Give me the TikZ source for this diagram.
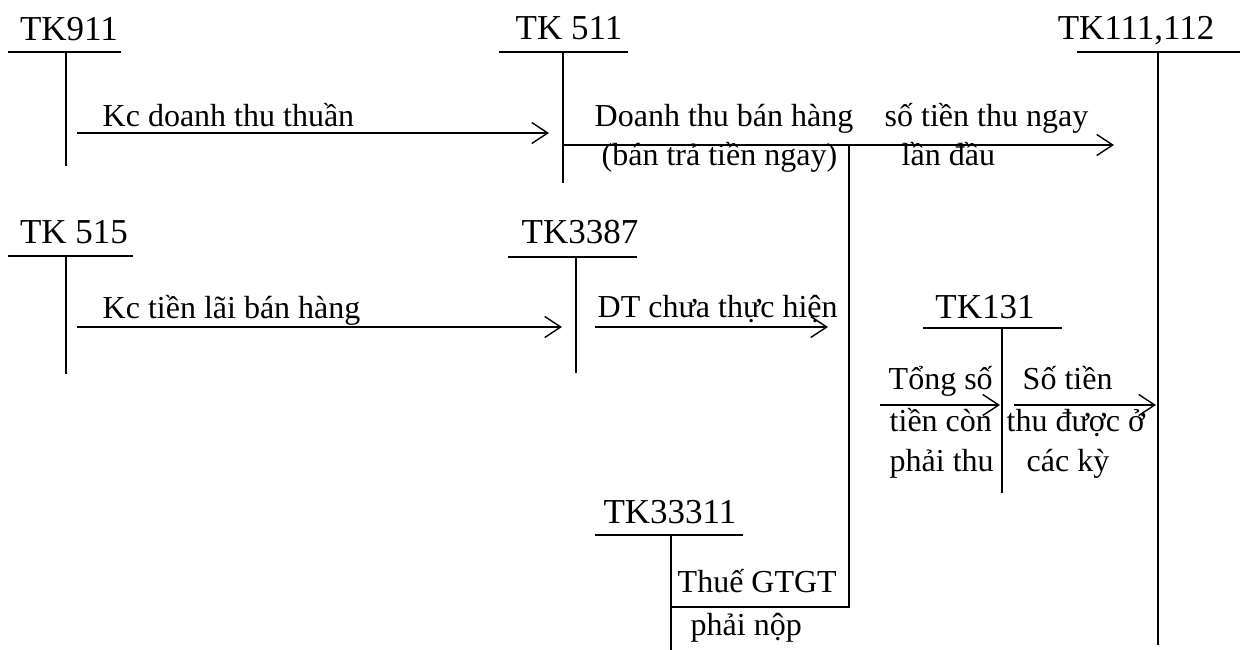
\documentclass[tikz,border=0pt]{standalone}
\usepackage{fontspec}
\setmainfont{Liberation Serif}
\usetikzlibrary{arrows.meta}
\begin{document}
\begin{tikzpicture}[x=1pt,y=-1pt,
  line width=1.4pt,
  every node/.style={inner sep=0pt, font=\fontsize{32}{40}\selectfont},
  acct/.style={font=\fontsize{35}{42}\selectfont, anchor=base},
  lbl/.style={anchor=base west},
  flow/.style={-{Straight Barb[length=16pt,width=21pt,line width=1.4pt]}},
]
\useasboundingbox (0,0) rectangle (1240,650);

% ---- T-accounts: title, underline, vertical stem ----
\node[acct] (tk911) at (69,41) {TK911};
\draw (8,52) -- (121,52);
\coordinate (tk911t) at (66,52); \coordinate (tk911b) at (66,166);
\draw (tk911t) -- (tk911b);

\node[acct] (tk511) at (569,40) {TK 511};
\draw (499,52) -- (628,52);
\coordinate (tk511t) at (563,52); \coordinate (tk511b) at (563,183);
\draw (tk511t) -- (tk511b);

\node[acct] (tk111) at (1136,40) {TK111,112};
\draw (1077,52) -- (1240,52);
\coordinate (tk111t) at (1158,52); \coordinate (tk111b) at (1158,645);
\draw (tk111t) -- (tk111b);

\node[acct] (tk515) at (74,243) {TK 515};
\draw (8,256) -- (133,256);
\coordinate (tk515t) at (66,256); \coordinate (tk515b) at (66,374);
\draw (tk515t) -- (tk515b);

\node[acct] (tk3387) at (580,243) {TK3387};
\draw (508,257) -- (637,257);
\coordinate (tk3387t) at (576,257); \coordinate (tk3387b) at (576,373);
\draw (tk3387t) -- (tk3387b);

\node[acct] (tk131) at (985,318) {TK131};
\draw (923,328) -- (1062,328);
\coordinate (tk131t) at (1002,328); \coordinate (tk131b) at (1002,493);
\draw (tk131t) -- (tk131b);

\node[acct] (tk33311) at (670,523) {TK33311};
\draw (595,535) -- (743,535);
\coordinate (tk333t) at (671,535); \coordinate (tk333b) at (671,650);
\draw (tk333t) -- (tk333b);

% ---- postings ----
\coordinate (a1s) at (77,133); \coordinate (a1e) at (549,133);
\draw[flow] (a1s) -- (a1e);
\node[lbl] (l1) at (102,127) {Kc doanh thu thuần};

\coordinate (a2s) at (563,145); \coordinate (a2e) at (1114,145);
\draw[flow] (a2s) -- (a2e);
\node[lbl] (l2a) at (594,127) {Doanh thu bán hàng};
\node[lbl] (l2b) at (601,166) {(bán trả tiền ngay)};
\node[lbl] (l2c) at (884,127) {số tiền thu ngay};
\node[lbl] (l2d) at (901,166) {lần đầu};

\coordinate (a3s) at (849,145); \coordinate (a3c) at (849,607); \coordinate (a3e) at (671,607);
\draw (a3s) -- (a3c) -- (a3e);
\node[lbl] (l3a) at (677,592) {Thuế GTGT};
\node[lbl] (l3b) at (690,635) {phải nộp};

\coordinate (a4s) at (77,327); \coordinate (a4e) at (562,327);
\draw[flow] (a4s) -- (a4e);
\node[lbl] (l4) at (102,318) {Kc tiền lãi bán hàng};

\coordinate (a5s) at (595,327); \coordinate (a5e) at (828,327);
\draw[flow] (a5s) -- (a5e);
\node[lbl] (l5) at (597,317) {DT chưa thực hiện};

\coordinate (a6s) at (880,405); \coordinate (a6e) at (1000,405);
\draw[flow] (a6s) -- (a6e);
\node[lbl] (l6a) at (888,389) {Tổng số};
\node[lbl] (l6b) at (889,431) {tiền còn};
\node[lbl] (l6c) at (889,471) {phải thu};

\coordinate (a7s) at (1014,405); \coordinate (a7e) at (1156,405);
\draw[flow] (a7s) -- (a7e);
\node[lbl] (l7a) at (1022,389) {Số tiền};
\node[lbl] (l7b) at (1006,431) {thu được ở};
\node[lbl] (l7c) at (1026,471) {các kỳ};
\end{tikzpicture}
\end{document}
